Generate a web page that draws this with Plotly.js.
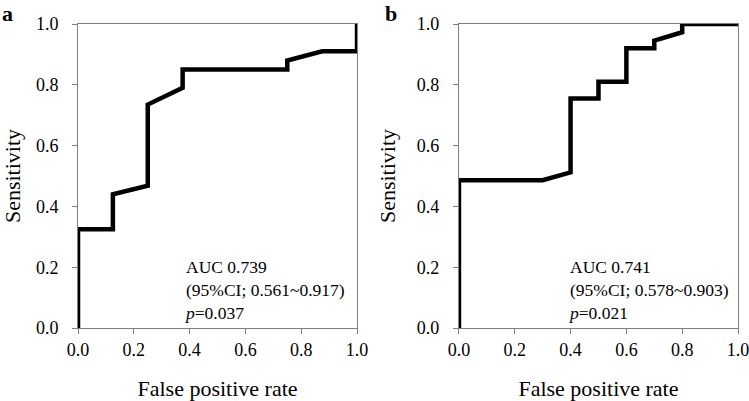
<!DOCTYPE html>
<html>
<head>
<meta charset="utf-8">
<script src="https://cdn.plot.ly/plotly-3.0.1.min.js"></script>
<style>html,body{margin:0;padding:0;background:#fff;}#chart{width:749px;height:401px;}</style>
</head>
<body>
<div id="chart"></div>
<script>
// Panel a ROC curve
const fprA = [0.0, 0.0, 0.125, 0.125, 0.25, 0.25, 0.375, 0.375, 0.75, 0.75, 0.875, 1.0, 1.0];
const tprA = [0.0, 0.325, 0.325, 0.44, 0.468, 0.735, 0.79, 0.85, 0.85, 0.88, 0.91, 0.91, 1.0];
// Panel b ROC curve
const fprB = [0.0, 0.0, 0.30, 0.40, 0.40, 0.50, 0.50, 0.60, 0.60, 0.70, 0.70, 0.80, 0.80, 1.0];
const tprB = [0.0, 0.486, 0.486, 0.512, 0.755, 0.755, 0.81, 0.81, 0.92, 0.92, 0.945, 0.973, 1.0, 1.0];
const tickVals = [0, 0.2, 0.4, 0.6, 0.8, 1.0];
const tickText = ["0.0", "0.2", "0.4", "0.6", "0.8", "1.0"];
const statsA = ["AUC 0.739", "(95%CI; 0.561~0.917)", "<i>p</i>=0.037"];
const statsB = ["AUC 0.741", "(95%CI; 0.578~0.903)", "<i>p</i>=0.021"];
const panelLabels = ["a", "b"];

const FONT = "Liberation Serif, Times New Roman, serif";
const lineStyle = {color: "#000", width: 4.5, shape: "linear"};

const traces = [
  {x: fprA, y: tprA, type: "scatter", mode: "lines", line: lineStyle, xaxis: "x", yaxis: "y", hoverinfo: "skip", cliponaxis: false},
  {x: fprB, y: tprB, type: "scatter", mode: "lines", line: lineStyle, xaxis: "x2", yaxis: "y2", hoverinfo: "skip", cliponaxis: false}
];

function xAxis(domain, anchor) {
  return {
    domain: domain, anchor: anchor, range: [0, 1], fixedrange: true,
    tickvals: tickVals, ticktext: tickText, ticks: "outside", ticklen: 5,
    tickcolor: "#7f7f7f", tickwidth: 1,
    showline: true, linecolor: "#7f7f7f", linewidth: 1, mirror: true,
    showgrid: false, zeroline: false,
    tickfont: {family: FONT, size: 18, color: "#000"},
    ticklabelstandoff: 0, ticklabeloverflow: "allow",
    title: {text: "False positive rate", font: {family: FONT, size: 22, color: "#000"}, standoff: 30}
  };
}
function yAxis(anchor) {
  return {
    anchor: anchor, range: [0, 1], fixedrange: true,
    tickvals: tickVals, ticktext: tickText, ticks: "outside", ticklen: 5,
    tickcolor: "#7f7f7f", tickwidth: 1,
    showline: true, linecolor: "#7f7f7f", linewidth: 1, mirror: true,
    showgrid: false, zeroline: false,
    tickfont: {family: FONT, size: 18, color: "#000"},
    ticklabelstandoff: 10,
    title: {text: "Sensitivity", font: {family: FONT, size: 22, color: "#000"}, standoff: 15}
  };
}

const annotations = [
  {xref: "x", yref: "y", x: 0.372, y: 0.24, xanchor: "left", yanchor: "top", align: "left",
   text: statsA.join("<br>"), showarrow: false, font: {family: FONT, size: 17.5, color: "#000"}},
  {xref: "x2", yref: "y2", x: 0.383, y: 0.24, xanchor: "left", yanchor: "top", align: "left",
   text: statsB.join("<br>"), showarrow: false, font: {family: FONT, size: 17.5, color: "#000"}},
  {xref: "paper", yref: "paper", x: -0.116, y: 1.0789, xanchor: "left", yanchor: "top", borderpad: 0,
   text: "<b>" + panelLabels[0] + "</b>", showarrow: false, font: {family: FONT, size: 22, color: "#000"}},
  {xref: "paper", yref: "paper", x: 0.464, y: 1.0789, xanchor: "left", yanchor: "top", borderpad: 0,
   text: "<b>" + panelLabels[1] + "</b>", showarrow: false, font: {family: FONT, size: 22, color: "#000"}}
];

const layout = {
  width: 749, height: 401,
  margin: {l: 78, r: 11, t: 24, b: 73, pad: 0},
  paper_bgcolor: "#fff", plot_bgcolor: "#fff",
  showlegend: false,
  xaxis: xAxis([0, 0.4228], "y"),
  yaxis: yAxis("x"),
  xaxis2: xAxis([0.5772, 1], "y2"),
  yaxis2: yAxis("x2"),
  annotations: annotations
};

Plotly.newPlot("chart", traces, layout, {displayModeBar: false, staticPlot: true});
</script>
</body>
</html>
